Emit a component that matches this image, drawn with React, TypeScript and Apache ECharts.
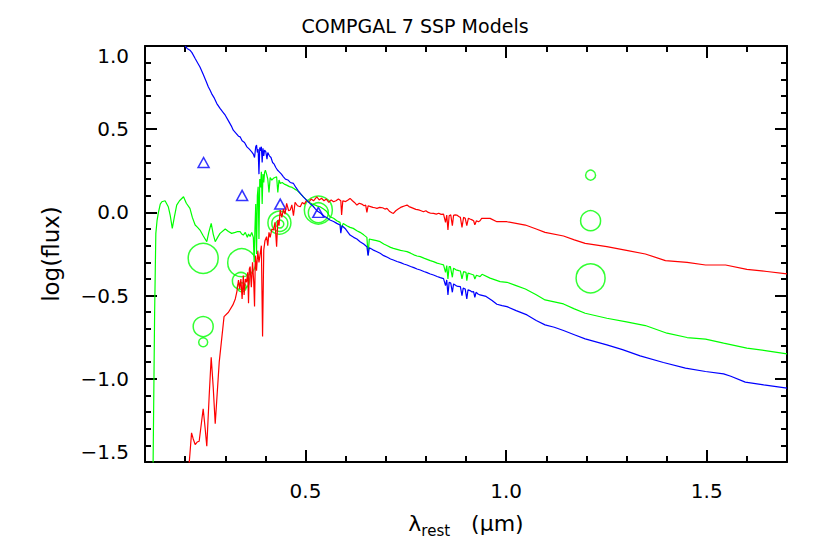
import React, { useEffect, useRef } from 'react';
import * as echarts from 'echarts';

const TITLE = 'COMPGAL 7 SSP Models';
const Y_NAME = 'log(flux)';
const X_MAJOR = [0.5, 1.0, 1.5];

const blueWave = [0.200, 0.205, 0.212, 0.217, 0.225, 0.232, 0.237, 0.245, 0.252, 0.258, 0.262, 0.266, 0.272, 0.279, 0.287, 0.295, 0.300, 0.308, 0.315, 0.320, 0.327, 0.333, 0.337, 0.342, 0.348, 0.354, 0.360, 0.366, 0.370, 0.373, 0.376, 0.378, 0.380, 0.382, 0.384, 0.386, 0.388, 0.390, 0.392, 0.394, 0.396, 0.398, 0.401, 0.404, 0.406, 0.410, 0.414, 0.418, 0.422, 0.426, 0.430, 0.434, 0.440, 0.445, 0.450, 0.456, 0.462, 0.470, 0.476, 0.482, 0.487, 0.494, 0.500, 0.506, 0.511, 0.518, 0.525, 0.531, 0.538, 0.545, 0.552, 0.561, 0.570, 0.578, 0.586, 0.588, 0.591, 0.600, 0.611, 0.620, 0.628, 0.636, 0.645, 0.653, 0.656, 0.659, 0.668, 0.677, 0.686, 0.695, 0.704, 0.712, 0.719, 0.728, 0.737, 0.745, 0.753, 0.762, 0.770, 0.778, 0.786, 0.795, 0.803, 0.811, 0.819, 0.828, 0.836, 0.844, 0.849, 0.852, 0.855, 0.858, 0.862, 0.866, 0.869, 0.875, 0.880, 0.886, 0.890, 0.893, 0.898, 0.902, 0.905, 0.910, 0.915, 0.919, 0.922, 0.925, 0.930, 0.935, 0.950, 0.965, 0.977, 0.990, 1.002, 1.025, 1.052, 1.075, 1.097, 1.120, 1.143, 1.170, 1.197, 1.251, 1.290, 1.334, 1.392, 1.447, 1.497, 1.542, 1.560, 1.596, 1.642, 1.700];
const blueFlux = [1.000, 0.985, 0.975, 0.960, 0.925, 0.895, 0.874, 0.830, 0.790, 0.754, 0.735, 0.714, 0.690, 0.654, 0.625, 0.600, 0.584, 0.550, 0.520, 0.494, 0.475, 0.458, 0.454, 0.430, 0.420, 0.394, 0.380, 0.364, 0.350, 0.330, 0.395, 0.405, 0.360, 0.380, 0.230, 0.390, 0.370, 0.395, 0.300, 0.385, 0.340, 0.375, 0.365, 0.320, 0.360, 0.340, 0.330, 0.300, 0.290, 0.270, 0.255, 0.245, 0.230, 0.214, 0.200, 0.195, 0.180, 0.174, 0.150, 0.130, 0.114, 0.095, 0.080, 0.065, 0.054, 0.040, 0.020, 0.005, -0.005, -0.020, -0.030, -0.046, -0.055, -0.066, -0.076, -0.125, -0.080, -0.100, -0.136, -0.150, -0.160, -0.176, -0.190, -0.206, -0.260, -0.212, -0.225, -0.235, -0.246, -0.260, -0.270, -0.280, -0.286, -0.295, -0.302, -0.310, -0.316, -0.325, -0.332, -0.340, -0.346, -0.355, -0.362, -0.370, -0.376, -0.385, -0.392, -0.398, -0.440, -0.406, -0.496, -0.420, -0.425, -0.480, -0.430, -0.440, -0.445, -0.446, -0.500, -0.455, -0.460, -0.520, -0.465, -0.470, -0.478, -0.476, -0.510, -0.480, -0.490, -0.496, -0.505, -0.530, -0.552, -0.560, -0.566, -0.590, -0.616, -0.650, -0.676, -0.690, -0.710, -0.735, -0.760, -0.796, -0.825, -0.862, -0.902, -0.936, -0.956, -0.970, -0.985, -1.020, -1.036, -1.056];

const greenWave = [0.120, 0.124, 0.127, 0.130, 0.133, 0.138, 0.142, 0.150, 0.158, 0.163, 0.168, 0.173, 0.179, 0.186, 0.196, 0.203, 0.212, 0.218, 0.225, 0.231, 0.237, 0.245, 0.254, 0.259, 0.265, 0.270, 0.275, 0.281, 0.287, 0.300, 0.308, 0.316, 0.325, 0.331, 0.337, 0.341, 0.345, 0.350, 0.355, 0.358, 0.362, 0.366, 0.370, 0.372, 0.374, 0.376, 0.378, 0.380, 0.382, 0.384, 0.386, 0.388, 0.390, 0.392, 0.394, 0.396, 0.398, 0.400, 0.403, 0.406, 0.409, 0.412, 0.416, 0.420, 0.424, 0.428, 0.431, 0.434, 0.437, 0.442, 0.447, 0.453, 0.460, 0.467, 0.473, 0.478, 0.484, 0.490, 0.496, 0.503, 0.510, 0.517, 0.523, 0.530, 0.536, 0.545, 0.553, 0.561, 0.570, 0.578, 0.586, 0.589, 0.594, 0.603, 0.611, 0.619, 0.628, 0.636, 0.645, 0.653, 0.656, 0.659, 0.668, 0.677, 0.686, 0.695, 0.704, 0.712, 0.719, 0.728, 0.737, 0.745, 0.753, 0.762, 0.770, 0.778, 0.786, 0.795, 0.803, 0.811, 0.819, 0.828, 0.836, 0.844, 0.849, 0.852, 0.855, 0.858, 0.861, 0.866, 0.869, 0.875, 0.882, 0.886, 0.890, 0.894, 0.900, 0.902, 0.905, 0.912, 0.919, 0.922, 0.926, 0.931, 0.935, 0.940, 0.960, 0.985, 1.002, 1.025, 1.048, 1.075, 1.097, 1.120, 1.143, 1.170, 1.197, 1.251, 1.300, 1.347, 1.401, 1.451, 1.497, 1.542, 1.600, 1.650, 1.700];
const greenFlux = [-1.550, -0.600, -0.126, -0.050, -0.006, 0.050, 0.064, 0.070, 0.034, -0.020, -0.096, -0.030, 0.044, 0.070, 0.094, 0.055, 0.024, -0.030, -0.076, -0.090, -0.106, -0.140, -0.176, -0.120, -0.066, -0.130, -0.176, -0.150, -0.126, -0.100, -0.115, -0.126, -0.120, -0.115, -0.116, -0.130, -0.136, -0.120, -0.150, -0.130, -0.145, -0.120, -0.150, -0.300, -0.100, 0.050, -0.250, 0.100, 0.154, -0.160, 0.200, 0.150, 0.244, 0.050, 0.230, 0.180, 0.240, 0.254, 0.230, 0.200, 0.120, 0.210, 0.194, 0.205, 0.210, 0.214, 0.120, 0.195, 0.174, 0.180, 0.170, 0.164, 0.155, 0.150, 0.140, 0.134, 0.120, 0.105, 0.090, 0.074, 0.060, 0.050, 0.045, 0.038, 0.034, 0.020, 0.005, -0.026, -0.035, -0.050, -0.060, -0.100, -0.066, -0.080, -0.090, -0.096, -0.110, -0.120, -0.135, -0.150, -0.256, -0.160, -0.165, -0.170, -0.176, -0.190, -0.200, -0.210, -0.216, -0.222, -0.228, -0.232, -0.236, -0.245, -0.255, -0.262, -0.266, -0.275, -0.282, -0.290, -0.296, -0.305, -0.310, -0.315, -0.360, -0.320, -0.400, -0.325, -0.326, -0.390, -0.335, -0.345, -0.350, -0.352, -0.400, -0.356, -0.360, -0.410, -0.365, -0.370, -0.376, -0.400, -0.378, -0.382, -0.386, -0.372, -0.395, -0.416, -0.420, -0.440, -0.460, -0.495, -0.526, -0.538, -0.550, -0.580, -0.606, -0.636, -0.658, -0.680, -0.726, -0.752, -0.762, -0.786, -0.816, -0.832, -0.850];

const redWave = [0.207, 0.212, 0.216, 0.220, 0.225, 0.230, 0.235, 0.245, 0.250, 0.254, 0.260, 0.265, 0.270, 0.275, 0.285, 0.297, 0.308, 0.319, 0.325, 0.329, 0.333, 0.336, 0.339, 0.342, 0.345, 0.347, 0.350, 0.353, 0.356, 0.358, 0.360, 0.362, 0.365, 0.368, 0.371, 0.373, 0.375, 0.378, 0.381, 0.384, 0.387, 0.390, 0.393, 0.396, 0.399, 0.403, 0.406, 0.409, 0.412, 0.416, 0.420, 0.424, 0.428, 0.431, 0.434, 0.437, 0.441, 0.445, 0.449, 0.453, 0.458, 0.462, 0.466, 0.470, 0.474, 0.480, 0.487, 0.492, 0.497, 0.503, 0.508, 0.514, 0.520, 0.528, 0.534, 0.540, 0.546, 0.552, 0.558, 0.564, 0.570, 0.576, 0.582, 0.588, 0.590, 0.593, 0.600, 0.606, 0.611, 0.617, 0.622, 0.628, 0.634, 0.640, 0.646, 0.650, 0.653, 0.656, 0.662, 0.668, 0.673, 0.678, 0.685, 0.692, 0.698, 0.703, 0.710, 0.715, 0.719, 0.725, 0.731, 0.737, 0.742, 0.748, 0.753, 0.758, 0.763, 0.769, 0.775, 0.782, 0.788, 0.794, 0.800, 0.806, 0.812, 0.819, 0.826, 0.832, 0.838, 0.844, 0.849, 0.852, 0.855, 0.858, 0.862, 0.866, 0.869, 0.873, 0.877, 0.882, 0.886, 0.890, 0.894, 0.898, 0.902, 0.906, 0.910, 0.915, 0.919, 0.922, 0.926, 0.931, 0.935, 0.939, 0.960, 0.977, 1.002, 1.048, 1.075, 1.097, 1.143, 1.170, 1.197, 1.251, 1.300, 1.347, 1.397, 1.451, 1.497, 1.547, 1.600, 1.650, 1.700];
const redFlux = [-1.600, -1.450, -1.325, -1.360, -1.395, -1.380, -1.375, -1.180, -1.300, -1.405, -1.100, -0.870, -1.050, -1.270, -0.900, -0.626, -0.600, -0.556, -0.520, -0.476, -0.406, -0.460, -0.400, -0.520, -0.380, -0.496, -0.400, -0.420, -0.360, -0.546, -0.340, -0.326, -0.450, -0.300, -0.420, -0.566, -0.260, -0.350, -0.230, -0.300, -0.250, -0.200, -0.746, -0.226, -0.170, -0.146, -0.200, -0.120, -0.150, -0.100, -0.106, -0.060, -0.206, -0.046, -0.080, 0.014, -0.030, 0.020, -0.010, 0.054, 0.010, 0.014, 0.045, -0.020, 0.060, 0.040, 0.034, 0.060, 0.050, 0.074, 0.060, 0.080, 0.070, 0.094, 0.075, 0.085, 0.070, 0.080, 0.060, 0.075, 0.064, 0.070, 0.080, 0.070, -0.016, 0.070, 0.065, 0.075, 0.084, 0.070, 0.060, 0.044, 0.055, 0.050, 0.040, 0.044, 0.000, 0.040, 0.035, 0.030, 0.028, 0.024, 0.030, 0.028, 0.020, 0.024, 0.005, -0.002, -0.006, 0.010, 0.020, 0.030, 0.035, 0.040, 0.044, 0.035, 0.030, 0.024, 0.018, 0.015, 0.010, 0.004, 0.010, 0.000, -0.005, -0.006, -0.010, -0.005, -0.012, -0.010, -0.060, -0.016, -0.106, -0.020, -0.015, -0.080, -0.018, -0.015, -0.016, -0.025, -0.030, -0.090, -0.030, -0.035, -0.080, -0.035, -0.040, -0.045, -0.050, -0.075, -0.050, -0.056, -0.050, -0.036, -0.036, -0.056, -0.056, -0.076, -0.100, -0.120, -0.142, -0.165, -0.186, -0.206, -0.228, -0.250, -0.290, -0.300, -0.316, -0.316, -0.342, -0.355, -0.370];

const triWave = [0.246, 0.342, 0.437, 0.532];
const triFlux = [0.300, 0.102, 0.050, 0.000];

const circWave = [0.245, 0.245, 0.245, 0.341, 0.339, 0.341, 0.435, 0.436, 0.436, 0.532, 0.532, 1.2105, 1.2105, 1.2105];
const circFlux = [-0.276, -0.686, -0.780, -0.302, -0.412, -0.450, -0.062, -0.066, -0.070, 0.014, -0.002, 0.224, -0.050, -0.396];
const circSize = [30, 20, 9, 28, 17, 9, 23, 16, 8, 28, 20, 10, 20, 29];

const FONT = 'DejaVu Sans';

function pairs(xs: number[], ys: number[]) {
  return xs.map((x, i) => [x, ys[i]]);
}

export default function App() {
  const ref = useRef<HTMLDivElement>(null);
  useEffect(() => {
    document.body.style.margin = '0';
    if (!ref.current) return;
    const chart = echarts.init(ref.current, undefined, { renderer: 'svg' });
    const black = '#000';
    const isMajor = (v: number) => Math.abs(v * 2 - Math.round(v * 2)) < 1e-6;
    const xBase = (pos: 'bottom' | 'top', withLabels: boolean) => ({
      type: 'value',
      min: 0.1,
      max: 1.7,
      interval: 0.1,
      position: pos,
      axisLine: { show: true, onZero: false, lineStyle: { color: black, width: 2 } },
      axisTick: { show: true, inside: true, length: 6, lineStyle: { color: black, width: 2 } },
      axisLabel: withLabels
        ? {
            show: true,
            margin: 19,
            fontSize: 20,
            fontFamily: FONT,
            color: black,
            formatter: (v: number) => (isMajor(v) ? v.toFixed(1) : ''),
          }
        : { show: false },
      splitLine: { show: false },
    });
    const xMajor = (pos: 'bottom' | 'top') => ({
      type: 'value',
      min: 0.1,
      max: 1.7,
      position: pos,
      axisLine: { show: false, onZero: false },
      axisTick: { show: true, inside: true, length: 12, customValues: X_MAJOR, lineStyle: { color: black, width: 2 } },
      axisLabel: { show: false },
      splitLine: { show: false },
    });
    const yBase = (pos: 'left' | 'right', withLabels: boolean) => ({
      type: 'value',
      min: -1.5,
      max: 1.0,
      interval: 0.5,
      position: pos,
      axisLine: { show: true, onZero: false, lineStyle: { color: black, width: 2 } },
      axisTick: { show: true, inside: true, length: 12, lineStyle: { color: black, width: 2 } },
      minorTick: { show: true, splitNumber: 5, length: 6, lineStyle: { color: black, width: 2 } },
      axisLabel: withLabels
        ? {
            show: true,
            margin: 16,
            fontSize: 20,
            fontFamily: FONT,
            color: black,
            verticalAlignMinLabel: 'bottom',
            verticalAlignMaxLabel: 'top',
            formatter: (v: number) => v.toFixed(1).replace('-', '\u2212'),
          }
        : { show: false },
      splitLine: { show: false },
      minorSplitLine: { show: false },
    });

    const xMain: any = xBase('bottom', true);
    xMain.name = '{a|\u03bb}{b|rest}{a|   (\u03bcm)}';
    xMain.nameLocation = 'middle';
    xMain.nameGap = 46;
    xMain.nameTextStyle = {
      color: black,
      fontFamily: FONT,
      rich: {
        a: { fontSize: 22, lineHeight: 30, verticalAlign: 'middle', fontFamily: FONT, color: black },
        b: { fontSize: 15, lineHeight: 20, verticalAlign: 'bottom', fontFamily: FONT, color: black },
      },
    };
    const yMain: any = yBase('left', true);
    yMain.name = Y_NAME;
    yMain.nameLocation = 'middle';
    yMain.nameGap = 83;
    yMain.nameRotate = 90;
    yMain.nameTextStyle = { fontSize: 23, fontFamily: FONT, color: black };

    const lineSeries = (name: string, xs: number[], ys: number[], color: string) => ({
      type: 'line',
      name,
      data: pairs(xs, ys),
      xAxisIndex: 0,
      yAxisIndex: 0,
      showSymbol: false,
      symbol: 'none',
      clip: true,
      silent: true,
      lineStyle: { color, width: 1.2 },
    });

    chart.setOption({
      animation: false,
      backgroundColor: '#fff',
      title: {
        text: TITLE,
        left: 'center',
        top: 11,
        textStyle: { fontSize: 19, fontWeight: 'normal', fontFamily: FONT, color: black },
      },
      grid: { left: 145, right: 43, top: 46, bottom: 92, containLabel: false, outerBoundsMode: 'none' },
      xAxis: [xMain, xMajor('bottom'), xBase('top', false), xMajor('top')],
      yAxis: [yMain, yBase('right', false)],
      series: [
        lineSeries('red', redWave, redFlux, '#ff0000'),
        lineSeries('green', greenWave, greenFlux, '#00ff00'),
        lineSeries('blue', blueWave, blueFlux, '#0000ff'),
        {
          type: 'scatter',
          name: 'photometry',
          data: circWave.map((x, i) => [x, circFlux[i], circSize[i]]),
          symbol: 'circle',
          symbolSize: (v: number[]) => v[2],
          silent: true,
          itemStyle: { color: 'transparent', borderColor: '#00ff00', borderWidth: 1.5 },
        },
        {
          type: 'scatter',
          name: 'triangles',
          data: pairs(triWave, triFlux),
          symbol: 'triangle',
          symbolSize: [11, 10],
          silent: true,
          itemStyle: { color: 'transparent', borderColor: '#0000ff', borderWidth: 1.5 },
        },
      ],
    });
    return () => chart.dispose();
  }, []);
  return <div ref={ref} style={{ width: 830, height: 554 }} />;
}
